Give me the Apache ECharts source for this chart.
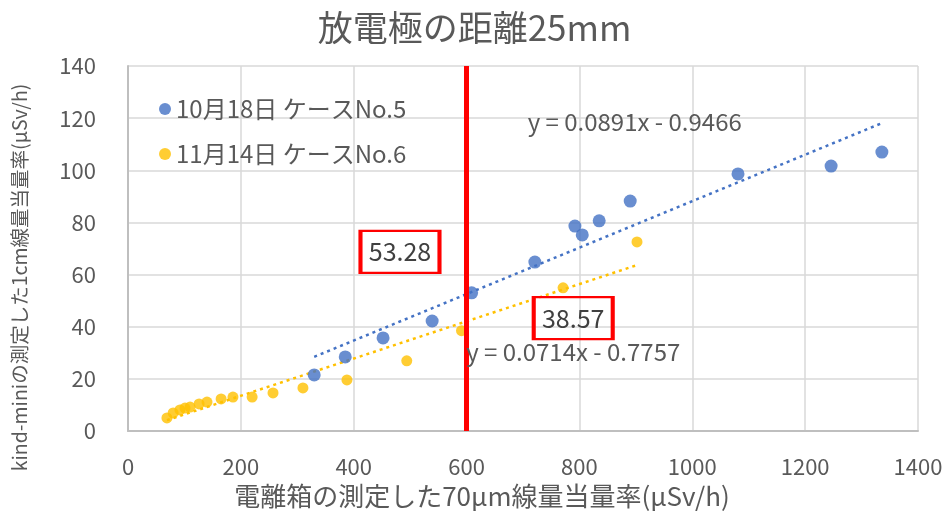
<!DOCTYPE html>
<html>
<head>
<meta charset="utf-8">
<script src="https://cdn.jsdelivr.net/npm/echarts@6/dist/echarts.min.js"></script>
<style>
html,body{margin:0;padding:0;background:#fff;}
#c{width:949px;height:521px;}
</style>
</head>
<body>
<div id="c"></div>
<script>
// ---- data ----
const chartTitle = '放電極の距離25mm';
const seriesNames = ['10月18日 ケースNo.5', '11月14日 ケースNo.6'];
const xAxisName = '電離箱の測定した70μm線量当量率(μSv/h)';
const yAxisName = 'kind-miniの測定した1cm線量当量率(μSv/h)';

const blueX = [330, 385, 452, 539, 609, 721, 792, 805, 835, 890, 1081, 1246, 1336];
const blueY = [21.5, 28.4, 35.7, 42.2, 53.0, 64.8, 78.6, 75.2, 80.6, 88.2, 98.6, 101.6, 107.0];

const orangeX = [69, 80, 92, 101, 110, 126, 140, 165, 186, 220, 257, 310, 388, 494, 591, 771, 902];
const orangeY = [5.0, 6.9, 8.1, 8.8, 9.2, 10.4, 11.1, 12.3, 13.0, 13.0, 14.6, 16.5, 19.6, 26.9, 38.5, 54.9, 72.5];

const trendSlopes = [0.0891, 0.0714];
const trendIntercepts = [-0.9466, -0.7757];
const trendLabels = ['y = 0.0891x - 0.9466', 'y = 0.0714x - 0.7757'];

const markerX = 600;
const markerValues = ['53.28', '38.57'];

const xTickMin = 0, xTickMax = 1400, xTickStep = 200;
const yTickMin = 0, yTickMax = 140, yTickStep = 20;

// ---- build ----
const colors = ['#4472C4', '#FFC000'];
const txt = '#595959';
const font = '"Noto Sans CJK JP", "Noto Sans", sans-serif';

function pairs(xs, ys){ return xs.map((x,i)=>[x, ys[i]]); }
function trend(xs, k){
  const lo = Math.min(...xs), hi = Math.max(...xs);
  return [[lo, trendSlopes[k]*lo + trendIntercepts[k]], [hi, trendSlopes[k]*hi + trendIntercepts[k]]];
}

const boxStyle = {color:'rgba(0,0,0,0)', borderColor:'#FF0000', borderWidth:3};
const chart = echarts.init(document.getElementById('c'), null, {renderer:'canvas'});
chart.setOption({
  animation:false,
  textStyle:{fontFamily:font},
  title:{text:chartTitle, left:'center', top:5, padding:[5,22,5,0],
    textStyle:{fontFamily:font, fontSize:35, fontWeight:'normal', color:txt}},
  legend:{data:seriesNames, orient:'vertical', left:154, top:92, itemGap:21,
    itemWidth:12, itemHeight:12, icon:'circle',
    textStyle:{fontFamily:font, fontSize:24, color:txt, lineHeight:24}},
  grid:{left:128, right:31, top:66, bottom:90},
  xAxis:{type:'value', min:xTickMin, max:xTickMax, interval:xTickStep,
    name:xAxisName, nameLocation:'middle', nameGap:47,
    nameTextStyle:{fontFamily:font, fontSize:26, color:txt, padding:[0,82,0,0]},
    axisLine:{lineStyle:{color:'#BFBFBF', width:2}}, axisTick:{show:false},
    axisLabel:{fontFamily:font, fontSize:22, color:txt, margin:25, formatter:v=>String(v)},
    splitLine:{lineStyle:{color:'#D9D9D9', width:1.5}}},
  yAxis:{type:'value', min:yTickMin, max:yTickMax, interval:yTickStep,
    name:yAxisName, nameLocation:'middle', nameGap:99,
    nameTextStyle:{fontFamily:font, fontSize:19.5, color:txt, padding:[0,58,0,0]},
    axisLine:{show:true, lineStyle:{color:'#BFBFBF', width:2}}, axisTick:{show:false},
    axisLabel:{fontFamily:font, fontSize:22, color:txt, margin:32},
    splitLine:{lineStyle:{color:'#D9D9D9', width:1.5}}},
  series:[
    {name:seriesNames[0], type:'scatter', data:pairs(blueX, blueY), symbolSize:13,
      itemStyle:{color:colors[0]}, z:3,
      markLine:{silent:true, symbol:['none','none'], label:{show:false},
        lineStyle:{color:'#FF0000', width:5, type:'solid'}, data:[{xAxis:markerX}], z:5},
      markPoint:{silent:true, data:[
        {coord:[482, 68.7], symbol:'rect', symbolSize:[79,42], itemStyle:boxStyle,
          label:{show:true, position:'inside', formatter:markerValues[0], fontFamily:font, fontSize:25, color:'#404040'}},
        {coord:[789, 43.3], symbol:'rect', symbolSize:[79,42], itemStyle:boxStyle,
          label:{show:true, position:'inside', formatter:markerValues[1], fontFamily:font, fontSize:25, color:'#404040'}},
        {coord:[898, 118.5], symbol:'rect', symbolSize:1, itemStyle:{color:'rgba(0,0,0,0)'},
          label:{show:true, position:'inside', formatter:trendLabels[0], fontFamily:font, fontSize:24, color:txt}},
        {coord:[789, 30.3], symbol:'rect', symbolSize:1, itemStyle:{color:'rgba(0,0,0,0)'},
          label:{show:true, position:'inside', formatter:trendLabels[1], fontFamily:font, fontSize:24, color:txt}}
      ]}},
    {name:seriesNames[1], type:'scatter', data:pairs(orangeX, orangeY), symbolSize:11,
      itemStyle:{color:colors[1]}, z:3},
    {name:'trend1', type:'line', data:trend(blueX,0), symbol:'none', silent:true,
      lineStyle:{color:colors[0], width:2.5, type:[3,4]}, z:2},
    {name:'trend2', type:'line', data:trend(orangeX,1), symbol:'none', silent:true,
      lineStyle:{color:colors[1], width:2.5, type:[3,4]}, z:2}
  ]
});
</script>
</body>
</html>
